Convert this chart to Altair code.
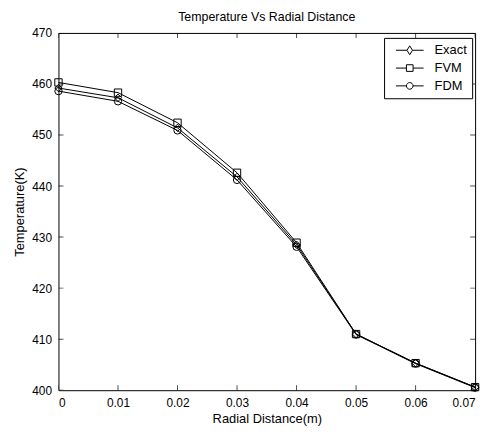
import altair as alt
import pandas as pd

# ---- data ----
radius = [0.0, 0.01, 0.02, 0.03, 0.04, 0.05, 0.06, 0.07]
exact = [459.2, 457.3, 451.4, 441.8, 428.5, 411.0, 405.3, 400.6]
fvm = [460.3, 458.3, 452.4, 442.6, 428.9, 411.0, 405.3, 400.6]
fdm = [458.6, 456.6, 450.9, 441.2, 428.1, 410.9, 405.2, 400.5]
series_names = ["Exact", "FVM", "FDM"]
x_ticks = [0.0, 0.01, 0.02, 0.03, 0.04, 0.05, 0.06, 0.07]
y_ticks = [400, 410, 420, 430, 440, 450, 460, 470]

rows = []
for name, vals in zip(series_names, [exact, fvm, fdm]):
    for r, t in zip(radius, vals):
        rows.append({"r": r, "T": t, "series": name})
df = pd.DataFrame(rows)

xdom = [x_ticks[0], x_ticks[-1]]
ydom = [y_ticks[0], y_ticks[-1]]
FONT = "Liberation Sans"

xs = alt.Scale(domain=xdom, nice=False, zero=False)
ys = alt.Scale(domain=ydom, nice=False, zero=False)

xenc = alt.X("r:Q", scale=xs, title="Radial Distance(m)",
             axis=alt.Axis(values=x_ticks, format="~g", domain=False, ticks=False,
                           grid=False, labelPadding=7, titlePadding=5,
                           labelFont=FONT, titleFont=FONT, labelFontSize=12,
                           titleFontSize=13, titleFontWeight="normal",
                           labelColor="black", titleColor="black"))
yenc = alt.Y("T:Q", scale=ys, title="Temperature(K)",
             axis=alt.Axis(values=y_ticks, domain=False, ticks=False, grid=False,
                           labelPadding=7, titlePadding=5,
                           labelFont=FONT, titleFont=FONT, labelFontSize=12,
                           titleFontSize=13, titleFontWeight="normal",
                           labelColor="black", titleColor="black"))

base = alt.Chart(df)

lines = base.mark_line(color="black", strokeWidth=1).encode(
    x=xenc, y=yenc, detail="series:N")

points = base.mark_point(filled=False, color="black", strokeWidth=1, size=55, opacity=1).encode(
    x=xenc, y=yenc,
    shape=alt.Shape("series:N", scale=alt.Scale(domain=series_names,
                    range=["diamond", "square", "circle"]), legend=None))

# legend glyphs: a short line with the marker in the middle (shifted right of centre)
legend_paths = [
    "M-0.08,0H1.52M2.32,0H3.92M1.92,-0.64L2.32,0L1.92,0.64L1.52,0Z",
    "M-0.08,0H1.44M2.4,0H3.92M1.44,-0.48H2.4V0.48H1.44Z",
    "M-0.08,0H1.44M2.4,0H3.92M2.4,0A0.48,0.48,0,1,1,1.44,0A0.48,0.48,0,1,1,2.4,0Z",
]
legend_layer = base.transform_filter("datum.T < 0").mark_point(
    filled=False, color="black", strokeWidth=1, opacity=1).encode(
    x=xenc, y=yenc,
    shape=alt.Shape("series:N", scale=alt.Scale(domain=series_names, range=legend_paths),
                    legend=alt.Legend(title=None, orient="none", legendX=329, legendY=5,
                                      strokeColor="black", fillColor="white",
                                      padding=5, rowPadding=3, symbolSize=196,
                                      symbolStrokeColor="black", symbolStrokeWidth=1,
                                      symbolFillColor="transparent",
                                      labelFontSize=13, labelFont=FONT, labelColor="black",
                                      labelOffset=31)))

# inward tick marks on all four sides (clipped half of centred ticks)
xt_rows = [{"r": v, "T": y} for v in x_ticks for y in ydom]
yt_rows = [{"r": x, "T": v} for v in y_ticks for x in xdom]
xticks = alt.Chart(pd.DataFrame(xt_rows)).mark_tick(
    orient="vertical", size=10, thickness=1, color="black", clip=True).encode(x=xenc, y=yenc)
yticks = alt.Chart(pd.DataFrame(yt_rows)).mark_tick(
    orient="horizontal", size=10, thickness=1, color="black", clip=True).encode(x=xenc, y=yenc)

chart = alt.layer(lines, points, xticks, yticks, legend_layer).resolve_scale(
    shape="independent"
).properties(
    width=421, height=361,
    background="white",
    title=alt.TitleParams("Temperature Vs Radial Distance", fontSize=12.5, font=FONT,
                          fontWeight="normal", color="black", offset=4, anchor="middle"),
    padding={"left": 5, "top": 0, "right": 5, "bottom": 0},
).configure_view(stroke="black", strokeWidth=1)

chart.save("out.html", embed_options={"renderer": "svg", "actions": False})
